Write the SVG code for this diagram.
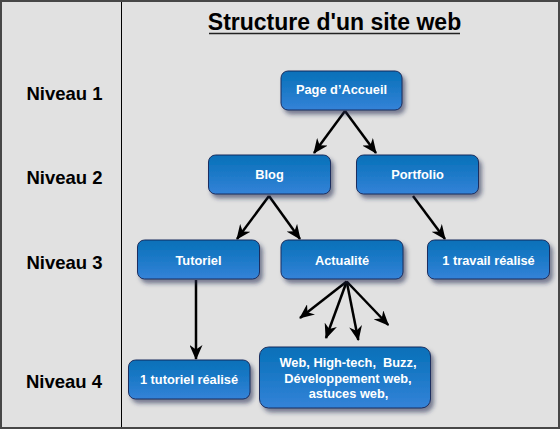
<svg xmlns="http://www.w3.org/2000/svg" width="560" height="429" viewBox="0 0 560 429">
<defs>
<linearGradient id="g" x1="0" y1="0" x2="0" y2="1">
<stop offset="0" stop-color="#0670b8"/>
<stop offset="1" stop-color="#3483d8"/>
</linearGradient>
<filter id="sh" x="-20%" y="-30%" width="150%" height="170%">
<feDropShadow dx="3" dy="4" stdDeviation="2" flood-color="#1a2850" flood-opacity="0.55"/>
</filter>
<marker id="ah" viewBox="0 0 15 13" refX="14" refY="6.5" markerWidth="15" markerHeight="13" markerUnits="userSpaceOnUse" orient="auto">
<path d="M0,0 L15,6.5 L0,13 L4.5,6.5 Z" fill="#000"/>
</marker>
<style>
.box{fill:url(#g);stroke:#1c2d5e;stroke-width:1;filter:url(#sh)}
.t{font-family:"Liberation Sans",Arial,sans-serif;font-weight:bold;font-size:12.8px;fill:#fff;text-anchor:middle}
.lv{font-family:"Liberation Sans",Arial,sans-serif;font-weight:bold;font-size:18.5px;fill:#000;text-anchor:middle}
.c line{stroke:#000;stroke-width:2.5;marker-end:url(#ah)}
.pre{white-space:pre}
</style>
</defs>
<rect x="1" y="1" width="558" height="427" fill="#e1e1e1" stroke="#474747" stroke-width="2"/>
<line x1="121.5" y1="2" x2="121.5" y2="427" stroke="#000" stroke-width="1"/>
<g id="title">
<text x="334.5" y="30" font-family="'Liberation Sans',Arial,sans-serif" font-weight="bold" font-size="23" text-anchor="middle" fill="#000">Structure d'un site web</text>
<line x1="209" y1="33.5" x2="460" y2="33.5" stroke="#222" stroke-width="1.6"/>
</g>
<g id="levels">
<text class="lv" x="64.5" y="100">Niveau 1</text>
<text class="lv" x="64.5" y="183.5">Niveau 2</text>
<text class="lv" x="64.5" y="269">Niveau 3</text>
<text class="lv" x="64" y="388">Niveau 4</text>
</g>
<g id="connectors" class="c">
<line x1="345" y1="111" x2="314" y2="153"/>
<line x1="345" y1="111" x2="376" y2="153"/>
<line x1="269" y1="196" x2="237" y2="239"/>
<line x1="269" y1="196" x2="300" y2="239"/>
<line x1="413" y1="196" x2="445" y2="239"/>
<line x1="196" y1="280" x2="196" y2="359"/>
<line x1="346.7" y1="281.5" x2="300" y2="318"/>
<line x1="346.7" y1="281.5" x2="326" y2="338"/>
<line x1="346.7" y1="281.5" x2="358.3" y2="340"/>
<line x1="346.7" y1="281.5" x2="388.3" y2="325"/>
</g>
<g id="accueil"><rect class="box" x="281" y="71" width="121" height="39" rx="7"/><text class="t" x="341.5" y="93.5">Page d’Accueil</text></g>
<g id="blog"><rect class="box" x="208.5" y="155" width="122" height="39" rx="7"/><text class="t" x="269.5" y="179">Blog</text></g>
<g id="portfolio"><rect class="box" x="356.5" y="155" width="122" height="39" rx="7"/><text class="t" x="417.5" y="179">Portfolio</text></g>
<g id="tutoriel"><rect class="box" x="137.5" y="240" width="122" height="39" rx="7"/><text class="t" x="198.5" y="265">Tutoriel</text></g>
<g id="actualite"><rect class="box" x="281" y="240" width="122" height="39" rx="7"/><text class="t" x="342" y="265">Actualité</text></g>
<g id="travail"><rect class="box" x="427.5" y="240" width="122" height="39" rx="7"/><text class="t" x="488.5" y="265">1 travail réalisé</text></g>
<g id="tutoriel-realise"><rect class="box" x="128.5" y="360" width="121.5" height="39" rx="7"/><text class="t" x="189" y="384">1 tutoriel réalisé</text></g>
<g id="web"><rect class="box" x="259.5" y="347" width="171" height="61" rx="9"/>
<text class="t pre" x="348" y="367.3">Web, High-tech,  Buzz,</text>
<text class="t" x="348" y="382.7">Développement web,</text>
<text class="t" x="348.5" y="398.3">astuces web,</text>
</g>
</svg>
